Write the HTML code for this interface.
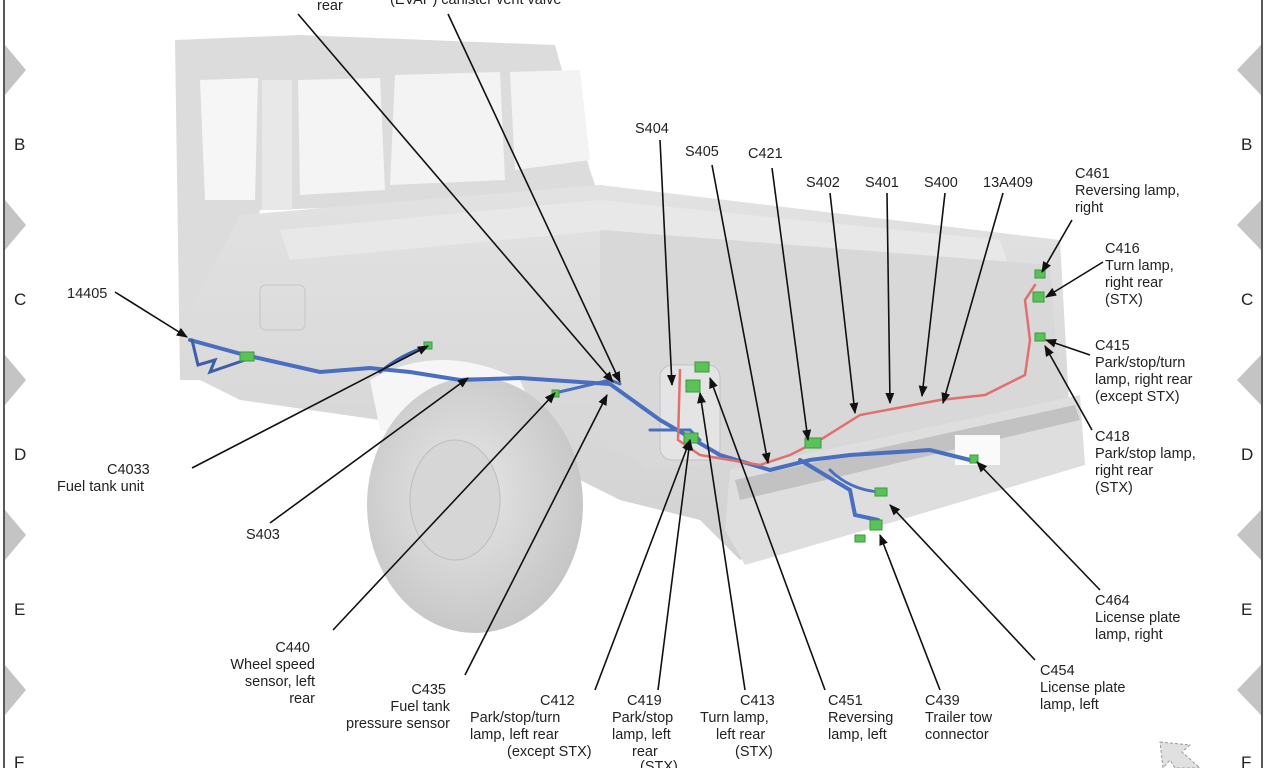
<!DOCTYPE html>
<html><head><meta charset="utf-8"><style>
html,body{margin:0;padding:0;background:#fff}
svg{display:block}
text{font-family:"Liberation Sans",sans-serif;font-size:14.5px;fill:#222}
</style></head><body>
<svg width="1280" height="768" viewBox="0 0 1280 768" xmlns="http://www.w3.org/2000/svg">
<defs>
<marker id="a" viewBox="0 0 10 10" refX="9" refY="5" markerWidth="7" markerHeight="7" orient="auto"><path d="M0,1 L10,5 L0,9 z" fill="#111"/></marker>
<linearGradient id="bd" x1="0" y1="0" x2="0" y2="1"><stop offset="0" stop-color="#e2e2e2"/><stop offset="1" stop-color="#d2d2d2"/></linearGradient>
<radialGradient id="tire" cx="0.45" cy="0.45" r="0.6"><stop offset="0" stop-color="#e8e8e8"/><stop offset="1" stop-color="#c4c4c4"/></radialGradient>
</defs>
<line x1="4" y1="0" x2="4" y2="768" stroke="#222" stroke-width="1.5"/>
<line x1="1262" y1="0" x2="1262" y2="768" stroke="#222" stroke-width="1.5"/>
<g fill="#c4c4c4">
<polygon points="5,45 26,70 5,95"/><polygon points="5,200 26,225 5,250"/><polygon points="5,355 26,380 5,405"/><polygon points="5,510 26,535 5,560"/><polygon points="5,665 26,690 5,715"/>
<polygon points="1261,45 1237,70 1261,95"/><polygon points="1261,200 1237,225 1261,250"/><polygon points="1261,355 1237,380 1261,405"/><polygon points="1261,510 1237,535 1261,560"/><polygon points="1261,665 1237,690 1261,715"/>
</g>
<g><text x="14" y="150" style="font-size:17px">B</text><text x="14" y="305" style="font-size:17px">C</text><text x="14" y="460" style="font-size:17px">D</text><text x="14" y="615" style="font-size:17px">E</text><text x="14" y="768" style="font-size:17px">F</text>
<text x="1241" y="150" style="font-size:17px">B</text><text x="1241" y="305" style="font-size:17px">C</text><text x="1241" y="460" style="font-size:17px">D</text><text x="1241" y="615" style="font-size:17px">E</text><text x="1241" y="768" style="font-size:17px">F</text></g>
<polygon points="1160,742 1190,745 1182,752 1200,768 1175,768 1170,760 1163,768" fill="#e0e0e0" stroke="#999" stroke-dasharray="3,2"/>

<polygon points="175,40 300,35 555,45 590,170 600,200 260,210 240,300 220,330 180,380" fill="#dcdcdc"/>
<polygon points="200,80 258,78 255,200 205,200" fill="#f6f6f6"/>
<rect x="262" y="80" width="30" height="130" fill="#e8e8e8"/>
<polygon points="298,80 380,78 385,190 300,195" fill="#f4f4f4"/>
<polygon points="395,75 500,72 505,180 390,185" fill="#f3f3f3"/>
<polygon points="510,72 580,70 590,160 515,170" fill="#f3f3f3"/>
<polygon points="240,215 600,185 1060,240 1070,420 900,470 740,560 700,520 620,500 560,470 380,420 240,400 200,380 180,380 180,330" fill="url(#bd)"/>
<polygon points="280,230 600,200 1000,240 1010,270 610,230 290,260" fill="#e8e8e8"/>
<polygon points="600,230 1050,265 1060,400 760,460 650,470 600,440" fill="#d8d8d8"/>
<rect x="660" y="365" width="60" height="95" rx="12" fill="#e4e4e4" stroke="#c2c2c2"/>
<rect x="260" y="285" width="45" height="45" rx="6" fill="none" stroke="#c6c6c6"/>
<path d="M370,380 Q440,340 520,380 L560,470 L380,430 Z" fill="#f6f6f6"/>
<ellipse cx="475" cy="505" rx="108" ry="128" fill="url(#tire)"/>
<ellipse cx="455" cy="500" rx="45" ry="60" fill="#d6d6d6" stroke="#bdbdbd"/>
<polygon points="730,470 1080,395 1085,465 900,520 745,565 725,530" fill="#dedede"/>
<polygon points="735,480 1075,405 1080,420 740,500" fill="#c2c2c2"/>
<rect x="955" y="435" width="45" height="30" fill="#fafafa"/>

<g fill="none" stroke-linecap="round">
<path d="M190,340 L245,355 L320,372 L370,368 L410,372 L460,380 L520,378 L610,384 L660,420 L720,455 L770,470 L810,460 L850,455 L930,450 L970,460" stroke="#4a6fbf" stroke-width="4"/>
<path d="M192,340 L198,365 L215,360 L210,372 L245,360" stroke="#3e5ea8" stroke-width="3"/>
<path d="M380,372 Q400,355 428,346" stroke="#3e5ea8" stroke-width="3"/>
<path d="M555,393 L610,380 L620,384" stroke="#4a6fbf" stroke-width="3"/>
<path d="M800,460 L850,490 L855,515 L878,520" stroke="#4a6fbf" stroke-width="4"/>
<path d="M830,470 Q850,490 880,492" stroke="#4a6fbf" stroke-width="3"/>
<path d="M650,430 L690,430 L700,440" stroke="#4a6fbf" stroke-width="3"/>
<path d="M680,370 L678,440 L700,455 L760,465 L790,455 L820,440 L860,415 L940,400 L985,395 L1025,375 L1030,340 L1025,300 L1035,285" stroke="#e0706e" stroke-width="2.5"/>
</g>
<g fill="#5bc25b" stroke="#3a9a3a">
<rect x="240" y="352" width="14" height="9"/><rect x="424" y="342" width="8" height="7"/><rect x="552" y="390" width="7" height="7"/>
<rect x="695" y="362" width="14" height="10"/><rect x="686" y="380" width="14" height="12"/><rect x="684" y="433" width="14" height="10"/>
<rect x="805" y="438" width="16" height="10"/><rect x="875" y="488" width="12" height="8"/><rect x="870" y="520" width="12" height="10"/><rect x="855" y="535" width="10" height="7"/>
<rect x="970" y="455" width="8" height="8"/><rect x="1035" y="270" width="10" height="8"/><rect x="1033" y="292" width="11" height="10"/><rect x="1035" y="333" width="10" height="8"/>
</g>

<g stroke="#111" stroke-width="1.6" fill="none" marker-end="url(#a)">
<line x1="298" y1="14" x2="613" y2="382"/>
<line x1="448" y1="14" x2="620" y2="382"/>
<line x1="660" y1="140" x2="672" y2="385"/>
<line x1="712" y1="165" x2="768" y2="463"/>
<line x1="772" y1="168" x2="808" y2="440"/>
<line x1="830" y1="193" x2="855" y2="413"/>
<line x1="887" y1="193" x2="890" y2="403"/>
<line x1="945" y1="193" x2="922" y2="396"/>
<line x1="1003" y1="193" x2="943" y2="403"/>
<line x1="1072" y1="220" x2="1042" y2="272"/>
<line x1="1103" y1="262" x2="1046" y2="297"/>
<line x1="1090" y1="355" x2="1046" y2="340"/>
<line x1="1092" y1="430" x2="1045" y2="346"/>
<line x1="1100" y1="590" x2="977" y2="462"/>
<line x1="1035" y1="660" x2="890" y2="505"/>
<line x1="940" y1="690" x2="880" y2="535"/>
<line x1="825" y1="690" x2="710" y2="378"/>
<line x1="745" y1="690" x2="700" y2="393"/>
<line x1="658" y1="690" x2="690" y2="440"/>
<line x1="595" y1="690" x2="690" y2="440"/>
<line x1="465" y1="675" x2="607" y2="395"/>
<line x1="333" y1="630" x2="555" y2="393"/>
<line x1="270" y1="523" x2="468" y2="378"/>
<line x1="192" y1="468" x2="428" y2="346"/>
<line x1="115" y1="292" x2="187" y2="337"/>
</g>

<text x="317" y="10">rear</text>
<text x="390" y="4">(EVAP) canister vent valve</text>
<text x="635" y="133">S404</text>
<text x="685" y="156">S405</text>
<text x="748" y="158">C421</text>
<text x="806" y="187">S402</text>
<text x="865" y="187">S401</text>
<text x="924" y="187">S400</text>
<text x="983" y="187">13A409</text>
<text x="1075" y="178">C461</text><text x="1075" y="195">Reversing lamp,</text><text x="1075" y="212">right</text>
<text x="1105" y="253">C416</text><text x="1105" y="270">Turn lamp,</text><text x="1105" y="287">right rear</text><text x="1105" y="304">(STX)</text>
<text x="1095" y="350">C415</text><text x="1095" y="367">Park/stop/turn</text><text x="1095" y="384">lamp, right rear</text><text x="1095" y="401">(except STX)</text>
<text x="1095" y="441">C418</text><text x="1095" y="458">Park/stop lamp,</text><text x="1095" y="475">right rear</text><text x="1095" y="492">(STX)</text>
<text x="1095" y="605">C464</text><text x="1095" y="622">License plate</text><text x="1095" y="639">lamp, right</text>
<text x="1040" y="675">C454</text><text x="1040" y="692">License plate</text><text x="1040" y="709">lamp, left</text>
<text x="925" y="705">C439</text><text x="925" y="722">Trailer tow</text><text x="925" y="739">connector</text>
<text x="828" y="705">C451</text><text x="828" y="722">Reversing</text><text x="828" y="739">lamp, left</text>
<text x="740" y="705">C413</text><text x="700" y="722">Turn lamp,</text><text x="716" y="739">left rear</text><text x="735" y="756">(STX)</text>
<text x="627" y="705">C419</text><text x="612" y="722">Park/stop</text><text x="612" y="739">lamp, left</text><text x="632" y="756">rear</text><text x="640" y="771">(STX)</text>
<text x="540" y="705">C412</text><text x="470" y="722">Park/stop/turn</text><text x="470" y="739">lamp, left rear</text><text x="507" y="756">(except STX)</text>
<g text-anchor="end">
<text x="446" y="694">C435</text><text x="450" y="711">Fuel tank</text><text x="450" y="728">pressure sensor</text>
<text x="310" y="652">C440</text><text x="315" y="669">Wheel speed</text><text x="315" y="686">sensor, left</text><text x="315" y="703">rear</text>
</g>
<text x="246" y="539">S403</text>
<text x="107" y="474">C4033</text><text x="57" y="491">Fuel tank unit</text>
<text x="67" y="298">14405</text>
</svg>
</body></html>
